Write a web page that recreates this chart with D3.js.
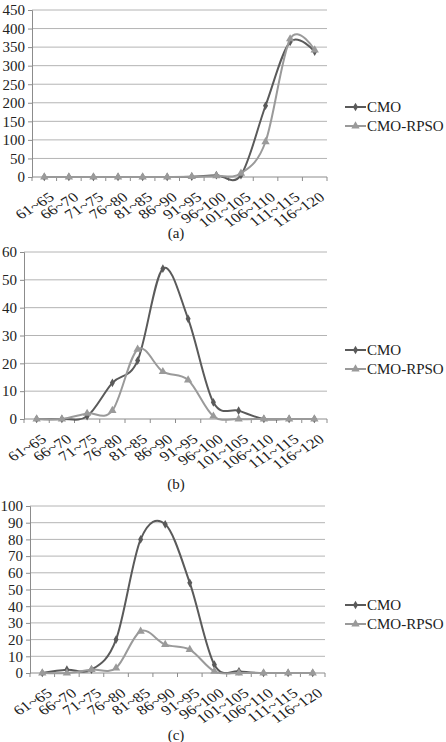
<!DOCTYPE html>
<html>
<head>
<meta charset="utf-8">
<script src="https://cdn.jsdelivr.net/npm/d3@7"></script>
<style>
  body { margin: 0; background: #fff; }
  svg { display: block; font-family: "Liberation Serif", "Times New Roman", serif; }
</style>
</head>
<body>
<div id="chart"></div>
<script>
// data
const categories = ['61~65', '66~70', '71~75', '76~80', '81~85', '86~90', '91~95', '96~100', '101~105', '106~110', '111~115', '116~120']
const seriesNames = ['CMO', 'CMO-RPSO']

const cmoA = [0, 0, 0, 0, 0, 0, 1, 5, 5, 192, 364, 338]
const rpsoA = [0, 0, 0, 0, 0, 0, 1, 3, 10, 95, 372, 342]
const cmoB = [0, 0, 1, 13, 21, 54, 36, 6, 3, 0, 0, 0]
const rpsoB = [0, 0, 2, 3, 25, 17, 14, 1, 0, 0, 0, 0]
const cmoC = [0, 2, 2, 20, 80, 89, 54, 5, 1, 0, 0, 0]
const rpsoC = [0, 0, 2, 3, 25, 17, 14, 1, 0, 0, 0, 0]

const ticksA = [0, 50, 100, 150, 200, 250, 300, 350, 400, 450]
const ticksB = [0, 10, 20, 30, 40, 50, 60]
const ticksC = [0, 10, 20, 30, 40, 50, 60, 70, 80, 90, 100]
const captions = ['(a)', '(b)', '(c)']

const W = 446, H = 742
const colors = ['#5a5a5a', '#9a9a9a']

let svg = d3.select('#chart').append('svg')
    .attr('width', W)
    .attr('height', H)

let panels = [
    {series: [cmoA, rpsoA], ticks: ticksA, cap: captions[0], left: 32, right: 327, top: 10, bottom: 177, legY: 107, capY: 238},
    {series: [cmoB, rpsoB], ticks: ticksB, cap: captions[1], left: 24, right: 327, top: 252, bottom: 419, legY: 350, capY: 489},
    {series: [cmoC, rpsoC], ticks: ticksC, cap: captions[2], left: 30, right: 325, top: 506, bottom: 673, legY: 605, capY: 740}
]

panels.forEach(p => {
    let g = svg.append('g')
    let x = d3.scaleBand().domain(categories).range([p.left, p.right])
    let y = d3.scaleLinear().domain([0, d3.max(p.ticks)]).range([p.bottom, p.top])

    // gridlines
    g.append('g').selectAll('line')
        .data(p.ticks.slice(1))
        .enter().append('line')
        .attr('x1', p.left).attr('x2', p.right)
        .attr('y1', d => y(d)).attr('y2', d => y(d))
        .attr('stroke', '#b4b4b4').attr('stroke-width', 1)

    // y axis
    let ya = g.append('g')
        .attr('transform', `translate(${p.left},0)`)
        .call(d3.axisLeft(y).tickValues(p.ticks).tickSize(4).tickPadding(3).tickFormat(d3.format('d')))
        .attr('font-family', null)
        .attr('font-size', null)
    ya.select('.domain').attr('stroke', '#8c8c8c')
    ya.selectAll('.tick line').attr('stroke', '#8c8c8c')
    ya.selectAll('text').attr('font-size', 15).attr('fill', '#222')

    // x axis, ticks at band boundaries
    let xa = g.append('g').attr('transform', `translate(0,${p.bottom})`)
    xa.append('line').attr('x1', p.left).attr('x2', p.right).attr('stroke', '#8c8c8c')
    xa.selectAll('.bt')
        .data(d3.range(categories.length + 1))
        .enter().append('line')
        .attr('class', 'bt')
        .attr('x1', i => p.left + i * x.step()).attr('x2', i => p.left + i * x.step())
        .attr('y1', 0).attr('y2', 4)
        .attr('stroke', '#8c8c8c')
    // labels look a bit squashed vertically in the reference
    xa.selectAll('text')
        .data(categories)
        .enter().append('text')
        .attr('transform', d => `translate(${x(d) + x.bandwidth() / 2 + 11},22) scale(1,0.8) rotate(-37)`)
        .attr('text-anchor', 'end')
        .attr('font-size', 17)
        .attr('fill', '#222')
        .text(d => d)

    // lines + markers
    p.series.forEach((vals, si) => {
        let line = d3.line()
            .x((d, i) => x(categories[i]) + x.bandwidth() / 2)
            .y(d => y(d))
            .curve(d3.curveCardinal.tension(0))
        g.append('path')
            .datum(vals)
            .attr('d', line)
            .attr('fill', 'none')
            .attr('stroke', colors[si])
            .attr('stroke-width', 2)
        let sym = d3.symbol().type(si == 0 ? d3.symbolDiamond : d3.symbolTriangle).size(si == 0 ? 22 : 30)
        g.append('g').selectAll('path')
            .data(vals)
            .enter().append('path')
            .attr('d', sym)
            .attr('transform', (d, i) => `translate(${x(categories[i]) + x.bandwidth() / 2},${y(d)})`)
            .attr('fill', colors[si])
    })

    // legend
    let lg = g.append('g').attr('transform', `translate(345,${p.legY})`)
    seriesNames.forEach((n, si) => {
        let row = lg.append('g').attr('transform', `translate(0,${si * 19})`)
        row.append('line').attr('x1', 0).attr('x2', 21).attr('stroke', colors[si]).attr('stroke-width', 2)
        row.append('path')
            .attr('d', d3.symbol().type(si == 0 ? d3.symbolDiamond : d3.symbolTriangle).size(si == 0 ? 22 : 30))
            .attr('transform', 'translate(10.5,0)')
            .attr('fill', colors[si])
        row.append('text')
            .attr('x', 22).attr('y', 5)
            .attr('font-size', 15)
            .attr('fill', '#222')
            .text(n)
    })

    // caption
    g.append('text')
        .attr('x', 176).attr('y', p.capY)
        .attr('text-anchor', 'middle')
        .attr('font-size', 15)
        .attr('fill', '#222')
        .text(p.cap)
})
</script>
</body>
</html>
